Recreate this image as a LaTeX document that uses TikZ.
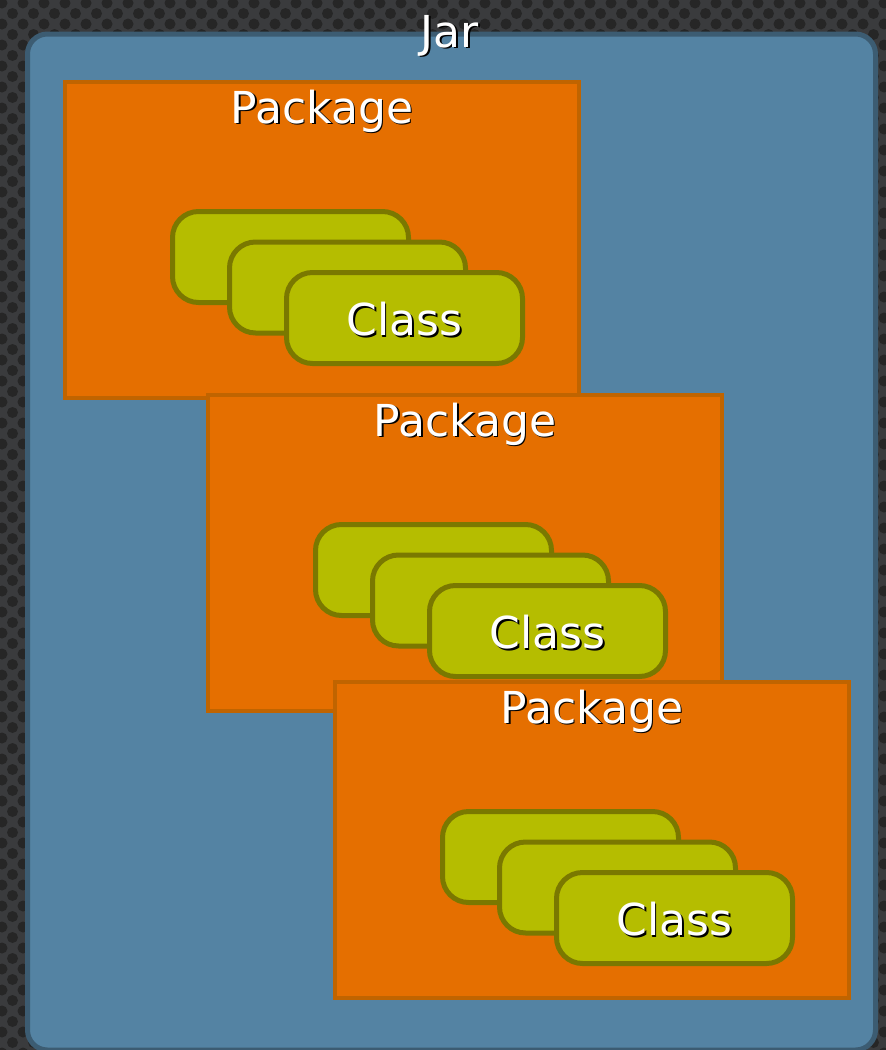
\documentclass[tikz,border=0pt]{standalone}
\usepackage{fontspec}
\setmainfont{DejaVu Sans}
\usetikzlibrary{positioning}

\definecolor{metal}{HTML}{3A3B3D}
\definecolor{jarfill}{HTML}{5483A3}
\definecolor{jarline}{HTML}{3C5C72}
\definecolor{pkgfill}{HTML}{E56F00}
\definecolor{pkgline}{HTML}{C06400}
\definecolor{clsfill}{HTML}{B5BD00}
\definecolor{clsline}{HTML}{7A7800}

% white text with a dark drop shadow
\newcommand{\glowtext}[1]{\makebox[0pt][l]{\raisebox{-0.8pt}{\hspace{0.8pt}\textcolor{black}{#1}}}#1}

\tikzset{
  jarbox/.style={draw=jarline,fill=jarfill,line width=2.5pt,rounded corners=10pt,
    minimum width=424pt,minimum height=508pt,inner sep=0pt},
  pkgbox/.style={draw=pkgline,fill=pkgfill,line width=2pt,
    minimum width=257pt,minimum height=158pt,inner sep=0pt},
  clsbox/.style={draw=clsline,fill=clsfill,line width=2.5pt,rounded corners=13pt,
    minimum width=118pt,minimum height=45.5pt,inner sep=0pt},
  caption/.style={text=white,font=\fontsize{22}{24}\selectfont,inner sep=0pt}
}

\begin{document}
\begin{tikzpicture}[x=0.5pt,y=-0.5pt]
    \useasboundingbox (0,0) rectangle (886,1050);
    % perforated metal backdrop
    \fill[metal] (0,0) rectangle (886,1050);
    \foreach \c in {0,...,84} {
        \foreach \r in {0,...,50} {
            \fill[black!85] ({\c*10.5+2},{\r*21+mod(\c,2)*10.5+3}) circle (5.5);
        }
    }
    % the jar
    \node[jarbox] (jar) at (451.5,542) {};
    \node[caption,anchor=base] (jarlabel) at (450,47) {\glowtext{Jar}};
    % packages, each holding a stack of classes
    \foreach \px/\py [count=\i] in {63/80, 206/393, 333/680} {
        \node[pkgbox] (pkg\i) at ({\px+259},{\py+160}) {};
        \node[caption,anchor=base] (pkglabel\i) at ({\px+259},{\py+43}) {\glowtext{Package}};
        \foreach \k in {0,1,2} {
            \node[clsbox] (cls\i\k) at ({\px+227.5+\k*57},{\py+177+\k*30.5}) {};
        }
        \node[caption] (clslabel\i) at ([yshift=-1pt]cls\i2) {\glowtext{Class}};
    }
\end{tikzpicture}
\end{document}
